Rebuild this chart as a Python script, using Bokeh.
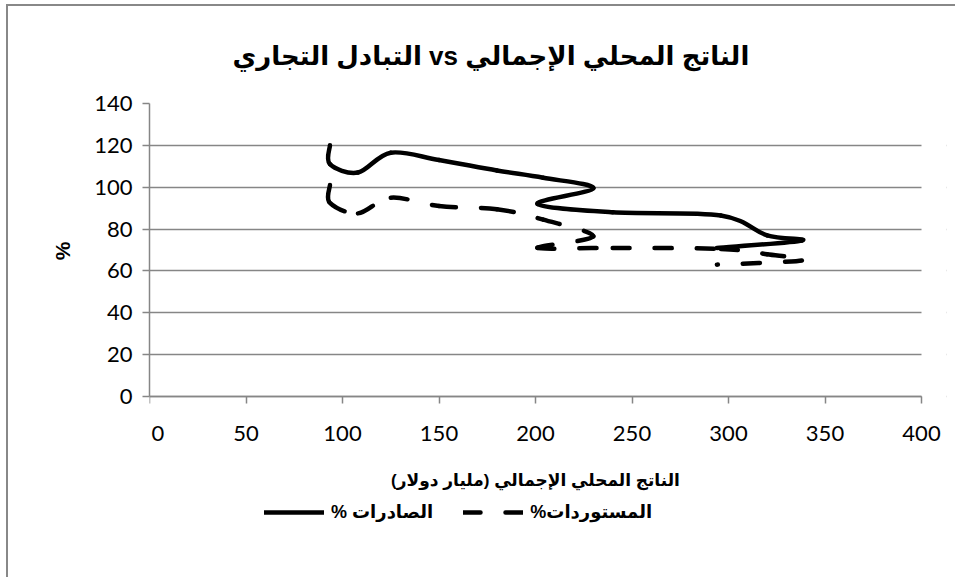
import numpy as np
from bokeh.plotting import figure
from bokeh.models import (Legend, LegendItem, FixedTicker, Title, BoxAnnotation,
                          Range1d, ColumnDataSource)
from bokeh.embed import file_html
from bokeh.resources import INLINE

# GDP (billion USD) and trade shares of GDP (%), in chronological order
gdp = [93.5, 93.5, 108, 125, 150, 180, 204, 230, 201, 240, 296, 320, 338, 294]
exports_pct = [120, 111, 107, 116.5, 113, 108, 104.5, 99.5, 92, 88, 86.5, 77, 74.5, 71]
imports_pct = [101, 92.5, 87.5, 95, 91, 89.5, 84.5, 76.5, 71, 71, 70.5, 68, 65, 63]

x_ticks = [0, 50, 100, 150, 200, 250, 300, 350, 400]
y_ticks = [0, 20, 40, 60, 80, 100, 120, 140]

title_text = "التبادل التجاري  vs الناتج المحلي الإجمالي"
x_label = "الناتج المحلي الإجمالي (مليار دولار)\u200f"
y_label = "%"
exports_name = "\u200fالصادرات %\u200f"
imports_name = "\u200fالمستوردات%\u200f"

ARABIC_FONT = "Liberation Sans, DejaVu Sans"
NUM_FONT = "Lato"
GRID = "#868686"

# the 0..140 band is 293 px tall and 0..400 is 772 px wide; the frame
# continues below the band (x axis pinned at y=0, legend underneath)
# and a little to the right so the last tick label is not cut
X_MAX, Y_MAX = 400, 140
BAND_W, BAND_H = 772, 293
PAD_R = 25
FRAME_H = 474
y_min = Y_MAX - FRAME_H * Y_MAX / BAND_H
x_max = X_MAX + PAD_R * X_MAX / BAND_W


def smooth_segments(xs, ys):
    """Cubic Bezier pieces of a smoothed line through the points (Catmull-Rom tangents)."""
    x = np.asarray(xs, float)
    y = np.asarray(ys, float)
    n = len(x)
    xp = np.concatenate([[x[0]], x, [x[-1]]])
    yp = np.concatenate([[y[0]], y, [y[-1]]])
    return ColumnDataSource(dict(
        x0=x[:-1], y0=y[:-1], x1=x[1:], y1=y[1:],
        cx0=x[:-1] + (xp[2:n + 1] - xp[0:n - 1]) / 6.0,
        cy0=y[:-1] + (yp[2:n + 1] - yp[0:n - 1]) / 6.0,
        cx1=x[1:] - (xp[3:n + 2] - xp[1:n]) / 6.0,
        cy1=y[1:] - (yp[3:n + 2] - yp[1:n]) / 6.0,
    ))


p = figure(frame_width=BAND_W + PAD_R, frame_height=FRAME_H, output_backend="svg",
           toolbar_location=None,
           x_range=Range1d(0, x_max), y_range=Range1d(y_min, Y_MAX),
           min_border_left=141, min_border_right=34 - PAD_R,
           min_border_top=97, min_border_bottom=0,
           background_fill_color="white", border_fill_color="white")
p.outline_line_color = None
# chart-area frame (left and top edges)
p.styles = {"margin-left": "6px", "margin-top": "4px",
            "border-left": "2px solid #888888", "border-top": "2px solid #888888"}

# title
p.title.text = title_text
p.title.align = "left"
p.title.offset = 83
p.title.text_font = ARABIC_FONT
p.title.text_font_size = "26px"
p.title.text_font_style = "bold"
p.title.text_color = "black"
p.title.standoff = 65

# axes
for ax in (p.xaxis[0], p.yaxis[0]):
    ax.axis_line_color = GRID
    ax.axis_line_width = 1.5
    ax.major_tick_line_color = GRID
    ax.major_tick_line_width = 1.5
    ax.major_tick_in = 0
    ax.major_tick_out = 7
    ax.minor_tick_line_color = None
    ax.major_label_text_font = NUM_FONT
    ax.major_label_text_font_size = "22px"
    ax.major_label_text_color = "black"
    ax.axis_label_text_font = ARABIC_FONT
    ax.axis_label_text_font_style = "bold"
    ax.axis_label_text_color = "black"

p.xaxis.ticker = FixedTicker(ticks=x_ticks)
p.yaxis.ticker = FixedTicker(ticks=y_ticks)
p.xaxis.fixed_location = 0
p.xaxis.bounds = (0, X_MAX)
p.xaxis.major_label_overrides = {0: "\u00a0\u00a0\u00a00"}
p.xaxis.axis_label = x_label
p.xaxis.axis_label_text_font_size = "17px"
p.xaxis.axis_label_standoff = 22
p.xaxis.major_label_standoff = 15
p.yaxis.bounds = (0, Y_MAX)
p.yaxis.major_label_standoff = 10

# y axis title, placed beside the 0..140 band
p.add_layout(Title(text=y_label, align="right", offset=138, standoff=35,
                   text_font=ARABIC_FONT, text_font_size="21px",
                   text_font_style="bold", text_color="black"), "left")

p.xgrid.grid_line_color = None
p.ygrid.grid_line_color = GRID
p.ygrid.grid_line_width = 1.5

# keep the gridlines from running past x = 400
p.add_layout(BoxAnnotation(left=X_MAX, fill_color="white", fill_alpha=1,
                           line_color=None, level="glyph"))

# smoothed series lines
exp_r = p.bezier(x0="x0", y0="y0", x1="x1", y1="y1", cx0="cx0", cy0="cy0",
                 cx1="cx1", cy1="cy1", source=smooth_segments(gdp, exports_pct),
                 line_color="black", line_width=4.5, line_cap="round", line_join="round")
imp_r = p.bezier(x0="x0", y0="y0", x1="x1", y1="y1", cx0="cx0", cy0="cy0",
                 cx1="cx1", cy1="cy1", source=smooth_segments(gdp, imports_pct),
                 line_color="black", line_width=4.5, line_cap="round",
                 line_dash="17 25")

legend = Legend(items=[LegendItem(label=exports_name, renderers=[exp_r]),
                       LegendItem(label=imports_name, renderers=[imp_r])],
                orientation="horizontal", location=(115, 54),
                label_text_font=ARABIC_FONT, label_text_font_style="bold",
                label_text_font_size="18px", label_text_color="black",
                glyph_width=60, glyph_height=20, spacing=30, label_standoff=7,
                border_line_color=None, background_fill_alpha=0,
                padding=4, margin=0)
p.add_layout(legend, "center")

open("out.html", "w").write(file_html(p, INLINE))
